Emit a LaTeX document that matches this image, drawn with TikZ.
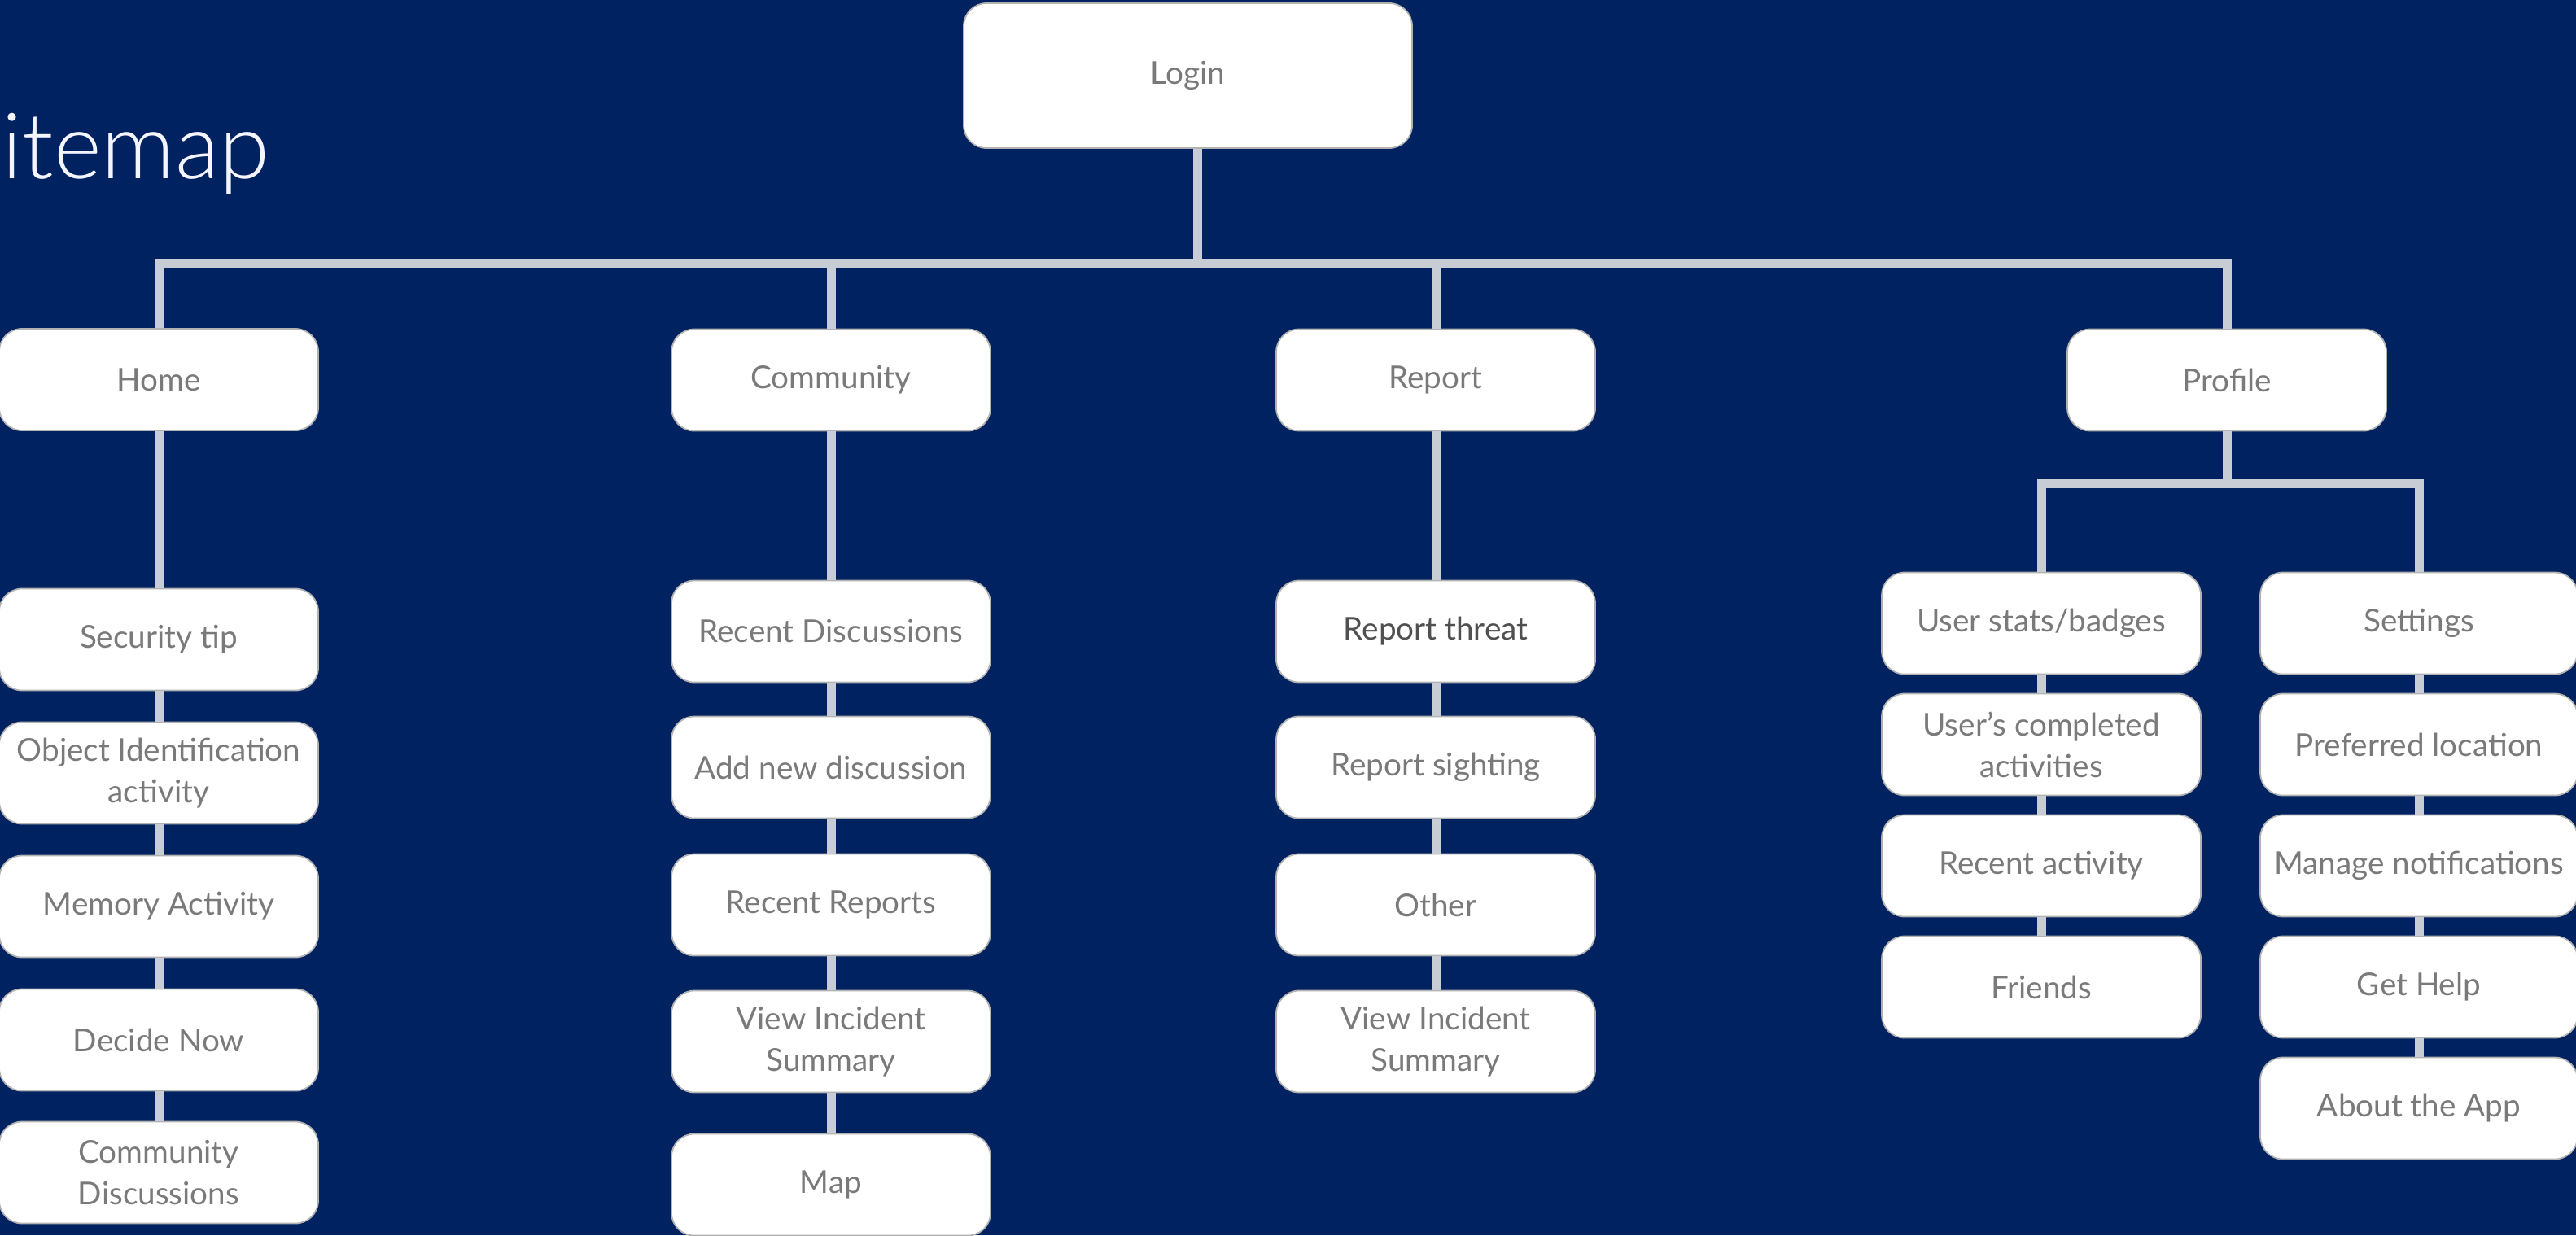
\documentclass[tikz,border=0pt]{standalone}
\usepackage{fontspec}
\setmainfont{Lato}
\newfontfamily\titlefont{Lato Light}
\usepackage{xcolor}
\usetikzlibrary{positioning}
\definecolor{NavyBg}{RGB}{0,34,96}
\definecolor{LinkGrey}{RGB}{200,204,212}
\definecolor{TextGrey}{RGB}{122,122,122}
\definecolor{TextDark}{RGB}{80,80,80}
\tikzset{
  page/.style={rectangle, rounded corners=0.28cm, fill=white, draw=black!30,
    line width=0.5pt, minimum width=3.92cm, minimum height=1.25cm,
    align=center, text=TextGrey, inner sep=2pt,
    font=\fontsize{11}{14.5}\selectfont},
  link/.style={draw=LinkGrey, line width=0.11cm},
}

\begin{document}
\begin{tikzpicture}[x=1cm,y=1cm]
    \fill[NavyBg] (0,0) rectangle (31.65,-15.18);
    \useasboundingbox (0,0) rectangle (31.65,-15.18);
    \node[anchor=base west, inner sep=0, text=white!96!blue,
      font=\titlefont\fontsize{32}{36}\selectfont] (title) at (0.02,-2.19) {\llap{S}itemap};

    % top level
    \node[page, minimum width=5.51cm, minimum height=1.78cm] (login) at (14.595,-0.93) {Login};

    % second level
    \node[page] (home) at (1.95,-4.665) {Home};
    \node[page] (community) at (10.21,-4.67) {Community};
    \node[page] (report) at (17.64,-4.67) {Report};
    \node[page] (profile) at (27.36,-4.67) {Profile};

    % home
    \node[page] (h1) at (1.95,-7.86) {Security tip};
    \node[page] (h2) at (1.95,-9.50) {Object Identification\\activity};
    \node[page] (h3) at (1.95,-11.14) {Memory Activity};
    \node[page] (h4) at (1.95,-12.78) {Decide Now};
    \node[page] (h5) at (1.95,-14.41) {Community\\Discussions};

    % community
    \node[page] (c1) at (10.21,-7.76) {Recent Discussions};
    \node[page] (c2) at (10.21,-9.43) {Add new discussion};
    \node[page] (c3) at (10.21,-11.12) {Recent Reports};
    \node[page] (c4) at (10.21,-12.80) {View Incident\\Summary};
    \node[page] (c5) at (10.21,-14.56) {Map};

    % report
    \node[page, text=TextDark] (r1) at (17.64,-7.76) {Report threat};
    \node[page] (r2) at (17.64,-9.43) {Report sighting};
    \node[page] (r3) at (17.64,-11.12) {Other};
    \node[page] (r4) at (17.64,-12.80) {View Incident\\Summary};

    % profile
    \node[page] (p1) at (25.08,-7.66) {User stats/badges};
    \node[page] (p2) at (25.08,-9.15) {User’s completed\\activities};
    \node[page] (p3) at (25.08,-10.64) {Recent activity};
    \node[page] (p4) at (25.08,-12.13) {Friends};
    \node[page, minimum width=3.90cm] (s1) at (29.72,-7.66) {Settings};
    \node[page, minimum width=3.90cm] (s2) at (29.72,-9.15) {Preferred location};
    \node[page, minimum width=3.90cm] (s3) at (29.72,-10.64) {Manage notifications};
    \node[page, minimum width=3.90cm] (s4) at (29.72,-12.13) {Get Help};
    \node[page, minimum width=3.90cm] (s5) at (29.72,-13.62) {About the App};

    % connectors
    \coordinate (hub) at (14.71,-3.23);
    \coordinate (fork) at (27.37,-5.94);
    \draw[link] (login.south -| hub) -- (hub);
    \draw[link] (home.north) |- (hub);
    \draw[link] (profile.north) |- (hub);
    \draw[link] (community.north) -- (community.north |- hub);
    \draw[link] (report.north) -- (report.north |- hub);
    \draw[link] (profile.south) -- (profile.south |- fork);
    \draw[link] (p1.north) |- (fork);
    \draw[link] (s1.north) |- (fork);
    \foreach \a/\b in {home/h1,h1/h2,h2/h3,h3/h4,h4/h5,
      community/c1,c1/c2,c2/c3,c3/c4,c4/c5,
      report/r1,r1/r2,r2/r3,r3/r4,
      p1/p2,p2/p3,p3/p4,s1/s2,s2/s3,s3/s4,s4/s5}
      \draw[link] (\a.south) -- (\b.north);
\end{tikzpicture}
\end{document}
